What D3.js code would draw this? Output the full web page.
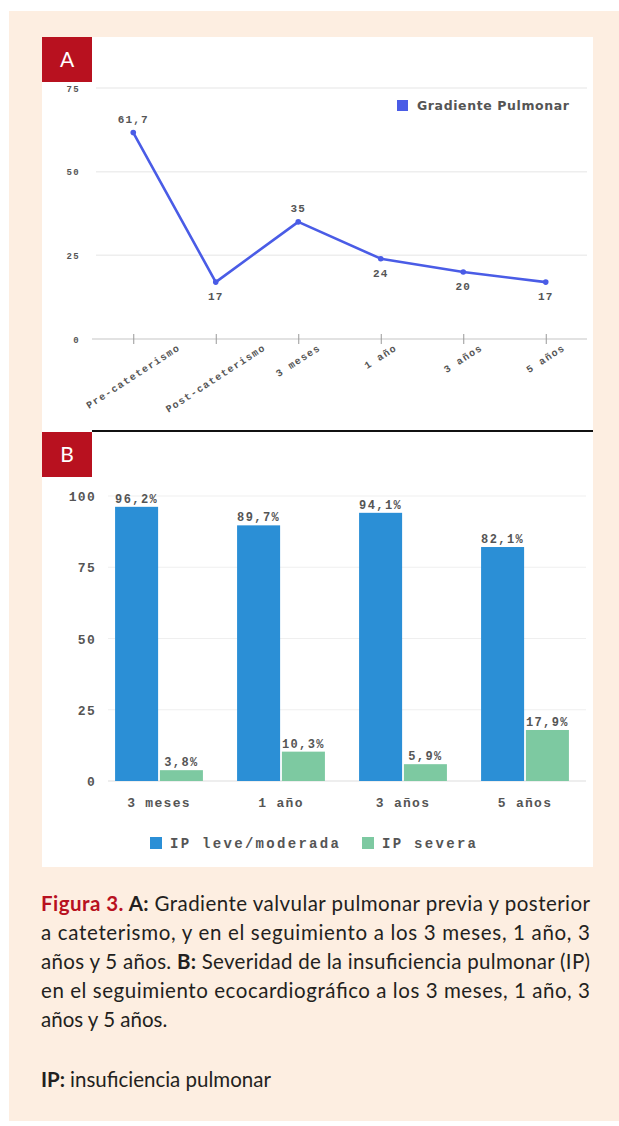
<!DOCTYPE html>
<html>
<head>
<meta charset="utf-8">
<script src="https://cdn.jsdelivr.net/npm/d3@7"></script>
<style>
  body { margin: 0; background: #fff; }
  svg { display: block; }
  .mono { font-family: "Liberation Mono", "DejaVu Sans Mono", monospace; font-weight: bold; fill: #555; }
</style>
</head>
<body>
<svg id="fig" width="619" height="1126"></svg>
<script>
// panel A data
var gradCats = ["Pre-cateterismo", "Post-cateterismo", "3 meses", "1 año", "3 años", "5 años"];
var gradValues = [61.7, 17, 35, 24, 20, 17];
var gradTicks = [0, 25, 50, 75];

// panel B data
var ipCats = ["3 meses", "1 año", "3 años", "5 años"];
var ipSeries = ["IP leve/moderada", "IP severa"];
var ipLeve = [96.2, 89.7, 94.1, 82.1];
var ipSevera = [3.8, 10.3, 5.9, 17.9];
var ipTicks = [0, 25, 50, 75, 100];

var captionLines = [
    [["Figura 3. ", "red"], ["A: ", "bold"], ["Gradiente valvular pulmonar previa y posterior", ""]],
    [["a cateterismo, y en el seguimiento a los 3 meses, 1 año, 3", ""]],
    [["años y 5 años. ", ""], ["B: ", "bold"], ["Severidad de la insuficiencia pulmonar (IP)", ""]],
    [["en el seguimiento ecocardiográfico a los 3 meses, 1 año, 3", ""]],
    [["años y 5 años.", ""]]
];

var es = d3.formatLocale({decimal: ",", thousands: ".", grouping: [3], currency: ["", "€"]});
var svg = d3.select("#fig");

var lineBlue = "#4a5ce6", barBlue = "#2b8fd6", barGreen = "#7dc9a1", red = "#b8111f";

/* background + white panel */
svg.append("rect").attr("x", 9).attr("y", 11).attr("width", 610).attr("height", 1110).attr("fill", "#fdeee1");
svg.append("rect").attr("x", 42).attr("y", 37).attr("width", 551).attr("height", 830).attr("fill", "#fff");
svg.append("line").attr("x1", 92).attr("x2", 593).attr("y1", 431).attr("y2", 431)
    .attr("stroke", "#111").attr("stroke-width", 2);

function panelTag(letter, y){
    svg.append("rect").attr("x", 42).attr("y", y).attr("width", 50).attr("height", 45).attr("fill", red);
    svg.append("text").attr("x", 67).attr("y", y + 30).attr("text-anchor", "middle")
        .attr("fill", "#fff").style("font-family", "Lato, 'Open Sans', sans-serif").style("font-size", "21px")
        .text(letter);
}
panelTag("A", 37);
panelTag("B", 432);

/* ---------- panel A: line chart ---------- */
var xA = d3.scalePoint().domain(gradCats).range([92, 587]).padding(0.5);
var yA = d3.scaleLinear().domain([0, 75]).range([339, 88]);

var gA = svg.append("g");

// gridlines
gA.selectAll(".gridA").data(gradTicks.filter(function(d){ return d > 0; })).enter()
    .append("line")
    .attr("x1", 96).attr("x2", 587)
    .attr("y1", function(d){ return yA(d); }).attr("y2", function(d){ return yA(d); })
    .attr("stroke", "#eeeeee").attr("stroke-width", 1.5);

// y labels
var yAxisA = gA.append("g").attr("transform", "translate(92,0)")
    .call(d3.axisLeft(yA).tickValues(gradTicks).tickSize(0).tickPadding(12));
yAxisA.select(".domain").remove();
yAxisA.selectAll("text").attr("class", "mono").style("font-size", "9px").style("letter-spacing", "1.4px")
    .attr("dy", "0.35em");

// x axis with ticks crossing the baseline
var xAxisA = gA.append("g").attr("transform", "translate(0," + yA(0) + ")")
    .call(d3.axisBottom(xA).tickSize(5).tickFormat(""));
xAxisA.select(".domain").attr("stroke", "#e2e2e2").attr("stroke-width", 2).attr("d", "M92,0H587");
xAxisA.selectAll(".tick line").attr("y1", -5).attr("y2", 5).attr("stroke", "#999");

// rotated category labels
gA.selectAll(".xlabA").data(gradCats).enter()
    .append("text")
    .attr("class", "mono")
    .style("font-size", "10px").style("letter-spacing", "1.3px")
    .attr("text-anchor", "middle")
    .text(function(d){ return d; })
    .each(function(d){
        var L = this.getComputedTextLength();
        var cx = xA(d), cy = 347 + 0.27 * L;
        d3.select(this).attr("x", cx).attr("y", cy + 3)
            .attr("transform", "rotate(-33," + cx + "," + cy + ")");
    });

// line
var line = d3.line()
    .x(function(d, i){ return xA(gradCats[i]); })
    .y(function(d){ return yA(d); });
gA.append("path").datum(gradValues)
    .attr("d", line).attr("fill", "none")
    .attr("stroke", lineBlue).attr("stroke-width", 2.6).attr("stroke-linejoin", "round");
gA.selectAll(".ptA").data(gradValues).enter()
    .append("circle")
    .attr("cx", function(d, i){ return xA(gradCats[i]); })
    .attr("cy", function(d){ return yA(d); })
    .attr("r", 2.8).attr("fill", lineBlue);

// value labels: above local peaks, below otherwise
function isPeak(i){
    var v = gradValues[i];
    var left = i > 0 ? gradValues[i - 1] : -Infinity;
    var right = i < gradValues.length - 1 ? gradValues[i + 1] : -Infinity;
    return v > left && v > right;
}
gA.selectAll(".valA").data(gradValues).enter()
    .append("text")
    .attr("class", "mono")
    .style("font-size", "11px").style("letter-spacing", "1.2px")
    .attr("text-anchor", "middle")
    .attr("x", function(d, i){ return xA(gradCats[i]); })
    .attr("y", function(d, i){ return yA(d) + (isPeak(i) ? -10 : 18); })
    .text(function(d){ return es.format("~g")(d); });

// legend
gA.append("rect").attr("x", 397).attr("y", 100).attr("width", 11).attr("height", 11).attr("fill", lineBlue);
gA.append("text").attr("x", 417).attr("y", 110)
    .style("font-family", "'DejaVu Sans', Verdana, sans-serif").style("font-weight", "bold")
    .style("font-size", "12.5px").style("letter-spacing", "0.6px").attr("fill", "#555")
    .text("Gradiente Pulmonar");

/* ---------- panel B: grouped bars ---------- */
var x0 = d3.scaleBand().domain(ipCats).range([98, 586]).paddingInner(0.28).paddingOuter(0.14);
var x1 = d3.scaleBand().domain(ipSeries).range([0, x0.bandwidth()]).paddingInner(0.04);
var yB = d3.scaleLinear().domain([0, 100]).range([781, 496]);
var colorB = d3.scaleOrdinal().domain(ipSeries).range([barBlue, barGreen]);

var gB = svg.append("g");

gB.selectAll(".gridB").data(ipTicks).enter()
    .append("line")
    .attr("x1", 108).attr("x2", 586)
    .attr("y1", function(d){ return yB(d); }).attr("y2", function(d){ return yB(d); })
    .attr("stroke", function(d){ return d === 0 ? "#dddddd" : "#efefef"; }).attr("stroke-width", 1.2);

var yAxisB = gB.append("g").attr("transform", "translate(108,0)")
    .call(d3.axisLeft(yB).tickValues(ipTicks).tickSize(0).tickPadding(12));
yAxisB.select(".domain").remove();
yAxisB.selectAll("text").attr("class", "mono").style("font-size", "13px").style("letter-spacing", "1.3px")
    .attr("dy", "0.35em");

var rows = ipCats.map(function(c, i){
    return {cat: c, vals: [{s: ipSeries[0], v: ipLeve[i]}, {s: ipSeries[1], v: ipSevera[i]}]};
});

var groups = gB.selectAll(".grp").data(rows).enter()
    .append("g").attr("transform", function(d){ return "translate(" + x0(d.cat) + ",0)"; });

groups.selectAll("rect").data(function(d){ return d.vals; }).enter()
    .append("rect")
    .attr("x", function(d){ return x1(d.s); })
    .attr("width", x1.bandwidth())
    .attr("y", function(d){ return yB(d.v); })
    .attr("height", function(d){ return yB(0) - yB(d.v); })
    .attr("fill", function(d){ return colorB(d.s); });

groups.selectAll(".valB").data(function(d){ return d.vals; }).enter()
    .append("text")
    .attr("class", "mono")
    .style("font-size", "12px").style("letter-spacing", "1.4px")
    .attr("text-anchor", "middle")
    .attr("x", function(d){ return x1(d.s) + x1.bandwidth() / 2; })
    .attr("y", function(d){ return yB(d.v) - 4; })
    .text(function(d){ return es.format(".1f")(d.v) + "%"; });

var xAxisB = gB.append("g").attr("transform", "translate(0," + yB(0) + ")")
    .call(d3.axisBottom(x0).tickSize(0).tickPadding(17));
xAxisB.select(".domain").remove();
xAxisB.selectAll("text").attr("class", "mono").style("font-size", "13px").style("letter-spacing", "1.3px");

// legend
var legB = gB.selectAll(".legB").data(ipSeries).enter()
    .append("g").attr("transform", function(d, i){ return "translate(" + (i === 0 ? 150 : 362) + ",837)"; });
legB.append("rect").attr("width", 12).attr("height", 12).attr("fill", function(d){ return colorB(d); });
legB.append("text").attr("class", "mono").attr("x", 20).attr("y", 11)
    .style("font-size", "14px").style("letter-spacing", "2.3px")
    .text(function(d){ return d; });

/* ---------- caption ---------- */
var cap = svg.append("g").style("font-family", "Lato, 'Open Sans', sans-serif").style("font-size", "20.5px");
captionLines.forEach(function(parts, i){
    var t = cap.append("text").attr("x", 41).attr("y", 911 + i * 29).attr("fill", "#231f20");
    if (i < 4) t.attr("textLength", 549).attr("lengthAdjust", "spacing");
    parts.forEach(function(p){
        var ts = t.append("tspan").text(p[0]);
        if (p[1] === "red") ts.attr("fill", red).style("font-weight", "bold");
        if (p[1] === "bold") ts.style("font-weight", "bold");
    });
});
var ip = cap.append("text").attr("x", 41).attr("y", 1087).attr("fill", "#231f20");
ip.append("tspan").style("font-weight", "bold").text("IP: ");
ip.append("tspan").text("insuficiencia pulmonar");
</script>
</body>
</html>
